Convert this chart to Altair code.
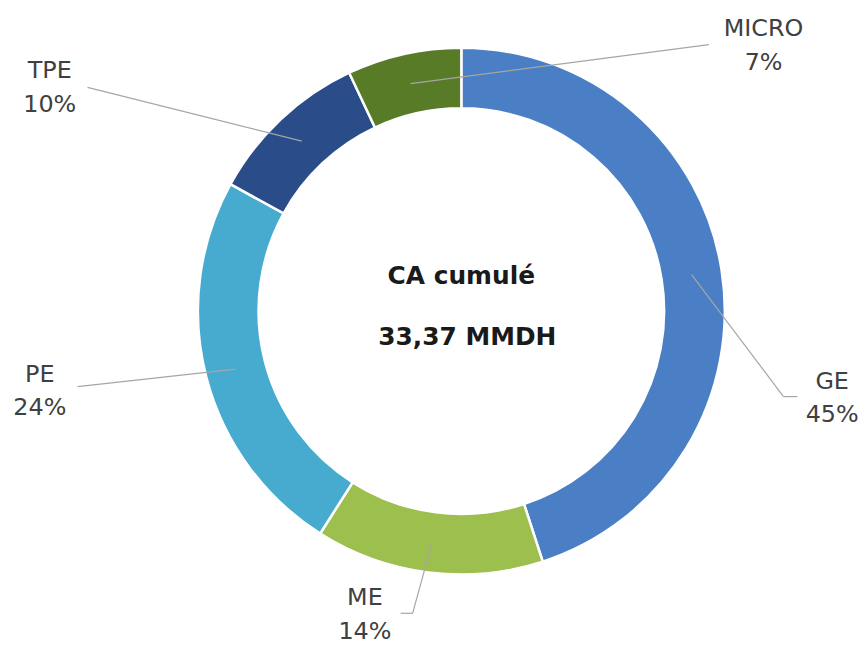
import altair as alt
import pandas as pd

# ---- data (clockwise from 12 o'clock) ----
categories = ["GE", "ME", "PE", "TPE", "MICRO"]
shares = [45, 14, 24, 10, 7]          # % of CA cumulé
colors = ["#4a7fc5", "#9dbf4d", "#47abd0", "#2a4c88", "#587b27"]
center_title = "CA cumulé"
center_value = "33,37 MMDH"

# ---- label layout (offsets from donut centre, px, y up; first text line) ----
label_x = [373, -97, -424, -414, 304]
label_y = [-71, -289, -64, 241, 284]
elbow_x = [324, -49, -386, -376, 249]
elbow_y = [-86, -304, -76, 225, 268]
end_x = [338, -61, -386, -376, 249]
end_y = [-86, -304, -76, 225, 268]

W, H = 845, 620
CX, CY = 456, 303
R_OUT, R_IN = 265, 204
R_MID = (R_OUT + R_IN) / 2

df = pd.DataFrame({
    "cat": categories,
    "value": shares,
    "idx": list(range(len(categories))),
    "label": [f"{c}\n{v}%" for c, v in zip(categories, shares)],
    "lx": label_x, "ly": label_y,
    "ex": elbow_x, "ey": elbow_y,
    "tx": end_x, "ty": end_y,
})

xs = alt.Scale(domain=[-CX, W - CX], nice=False, zero=False)
ys = alt.Scale(domain=[-(H - CY), CY], nice=False, zero=False)

base = alt.Chart(df)

ring = base.mark_arc(outerRadius=R_OUT, innerRadius=R_IN, stroke="white", strokeWidth=2.5).encode(
    theta=alt.Theta("value:Q", stack=True),
    order=alt.Order("idx:Q"),
    color=alt.Color("cat:N", scale=alt.Scale(domain=categories, range=colors), legend=None),
    x=alt.datum(0, scale=xs, type="quantitative", axis=None),
    y=alt.datum(0, scale=ys, type="quantitative", axis=None),
)

lead = base.transform_joinaggregate(
    total="sum(value)"
).transform_window(
    cum="sum(value)", sort=[alt.SortField("idx")], frame=[None, 0]
).transform_calculate(
    mid="2*PI*(datum.cum - datum.value/2)/datum.total",
).transform_calculate(
    sx=f"{R_MID}*sin(datum.mid)", sy=f"{R_MID}*cos(datum.mid)"
)

rule1 = lead.mark_rule(color="#a6a6a6", strokeWidth=1.2).encode(
    x=alt.X("sx:Q", scale=xs, axis=None), y=alt.Y("sy:Q", scale=ys, axis=None),
    x2="ex:Q", y2="ey:Q",
)
rule2 = base.mark_rule(color="#a6a6a6", strokeWidth=1.2).encode(
    x=alt.X("ex:Q", scale=xs, axis=None), y=alt.Y("ey:Q", scale=ys, axis=None),
    x2="tx:Q", y2="ty:Q",
)

labels = base.mark_text(
    font="DejaVu Sans", fontSize=24, color="#404040", align="center",
    baseline="middle", lineBreak="\n", lineHeight=34,
).encode(
    x=alt.X("lx:Q", scale=xs, axis=None), y=alt.Y("ly:Q", scale=ys, axis=None),
    text="label:N",
)

ctr = pd.DataFrame({"t": [center_title, center_value], "x": [0, 6], "y": [35, -26]})
center = alt.Chart(ctr).mark_text(
    font="DejaVu Sans", fontWeight="bold", fontSize=25, color="#1a1a1a",
    align="center", baseline="middle",
).encode(
    x=alt.X("x:Q", scale=xs, axis=None), y=alt.Y("y:Q", scale=ys, axis=None),
    text="t:N",
)

chart = alt.layer(ring, rule1, rule2, labels, center).properties(
    width=W, height=H, padding=0, background="white"
).configure_view(stroke=None)

chart.save("out.html", embed_options={"renderer": "svg", "actions": False})
